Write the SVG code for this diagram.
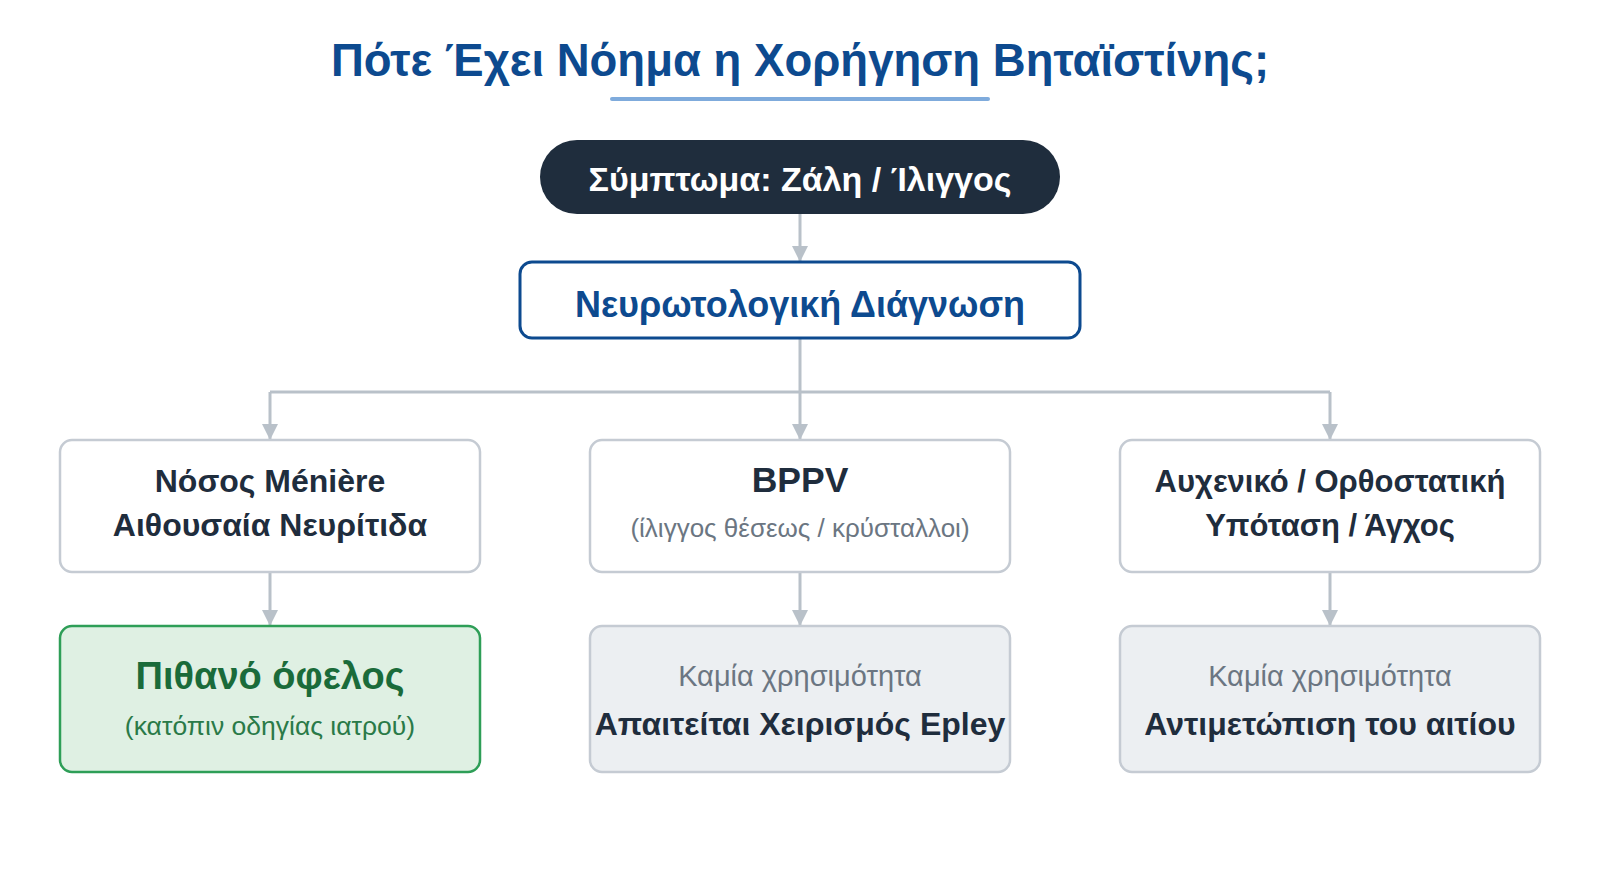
<svg xmlns="http://www.w3.org/2000/svg" width="1600" height="880" viewBox="0 0 1600 880">
<defs>
<marker id="ah" viewBox="0 0 16 16" refX="16" refY="8" markerWidth="16" markerHeight="16" markerUnits="userSpaceOnUse" orient="auto">
<path d="M0,0 L16,8 L0,16 Z" fill="#b9c1c9"/>
</marker>
<style>
text{font-family:"Liberation Sans","Noto Sans",Arial,sans-serif;text-anchor:middle}
.b{font-weight:700}
.dark{fill:#1f2d3d}
.grey{fill:#6b7682}
.card{fill:#ffffff;stroke:#c5cbd3;stroke-width:2.5}
.nouse{fill:#eceff2;stroke:#c5cbd3;stroke-width:2.5}
.conn{fill:none;stroke:#b9c1c9;stroke-width:3}
</style>
</defs>
<rect width="1600" height="880" fill="#ffffff"/>
<text x="800" y="76" class="b" font-size="45.5" fill="#0d4a8f">Πότε Έχει Νόημα η Χορήγηση Βηταϊστίνης;</text>
<line x1="612" y1="99" x2="988" y2="99" stroke="#7fabdc" stroke-width="4" stroke-linecap="round"/>

<g id="connectors">
<path class="conn" d="M800,214 V262" marker-end="url(#ah)"/>
<path class="conn" d="M800,338 V440" marker-end="url(#ah)"/>
<path class="conn" d="M270,392 H1330"/>
<path class="conn" d="M270,392 V440" marker-end="url(#ah)"/>
<path class="conn" d="M1330,392 V440" marker-end="url(#ah)"/>
<path class="conn" d="M270,572 V626" marker-end="url(#ah)"/>
<path class="conn" d="M800,572 V626" marker-end="url(#ah)"/>
<path class="conn" d="M1330,572 V626" marker-end="url(#ah)"/>
</g>

<g id="symptom">
<rect x="540" y="140" width="520" height="74" rx="37" fill="#1f2d3d"/>
<text x="800" y="191" class="b" font-size="34" fill="#ffffff">Σύμπτωμα: Ζάλη / Ίλιγγος</text>
</g>

<g id="diagnosis">
<rect x="520" y="262" width="560" height="76" rx="12" fill="#ffffff" stroke="#0d4a8f" stroke-width="3"/>
<text x="800" y="317" class="b" font-size="36" fill="#0d4a8f">Νευρωτολογική Διάγνωση</text>
</g>

<g id="meniere">
<rect class="card" x="60" y="440" width="420" height="132" rx="12"/>
<text x="270" y="492" class="b dark" font-size="32">Νόσος Ménière</text>
<text x="270" y="536" class="b dark" font-size="32">Αιθουσαία Νευρίτιδα</text>
</g>

<g id="bppv">
<rect class="card" x="590" y="440" width="420" height="132" rx="12"/>
<text x="800" y="492" class="b dark" font-size="35.5">BPPV</text>
<text x="800" y="537" class="grey" font-size="26">(ίλιγγος θέσεως / κρύσταλλοι)</text>
</g>

<g id="other">
<rect class="card" x="1120" y="440" width="420" height="132" rx="12"/>
<text x="1330" y="492" class="b dark" font-size="31">Αυχενικό / Ορθοστατική</text>
<text x="1330" y="536" class="b dark" font-size="31">Υπόταση / Άγχος</text>
</g>

<g id="benefit">
<rect x="60" y="626" width="420" height="146" rx="12" fill="#dff0e3" stroke="#2e9e57" stroke-width="2.5"/>
<text x="270" y="689" class="b" font-size="38" fill="#1a6b3a">Πιθανό όφελος</text>
<text x="270" y="735" font-size="26.5" fill="#2a7a48">(κατόπιν οδηγίας ιατρού)</text>
</g>

<g id="epley">
<rect class="nouse" x="590" y="626" width="420" height="146" rx="12"/>
<text x="800" y="686" class="grey" font-size="29">Καμία χρησιμότητα</text>
<text x="800" y="735" class="b dark" font-size="32">Απαιτείται Χειρισμός Epley</text>
</g>

<g id="cause">
<rect class="nouse" x="1120" y="626" width="420" height="146" rx="12"/>
<text x="1330" y="686" class="grey" font-size="29">Καμία χρησιμότητα</text>
<text x="1330" y="735" class="b dark" font-size="32">Αντιμετώπιση του αιτίου</text>
</g>
</svg>
